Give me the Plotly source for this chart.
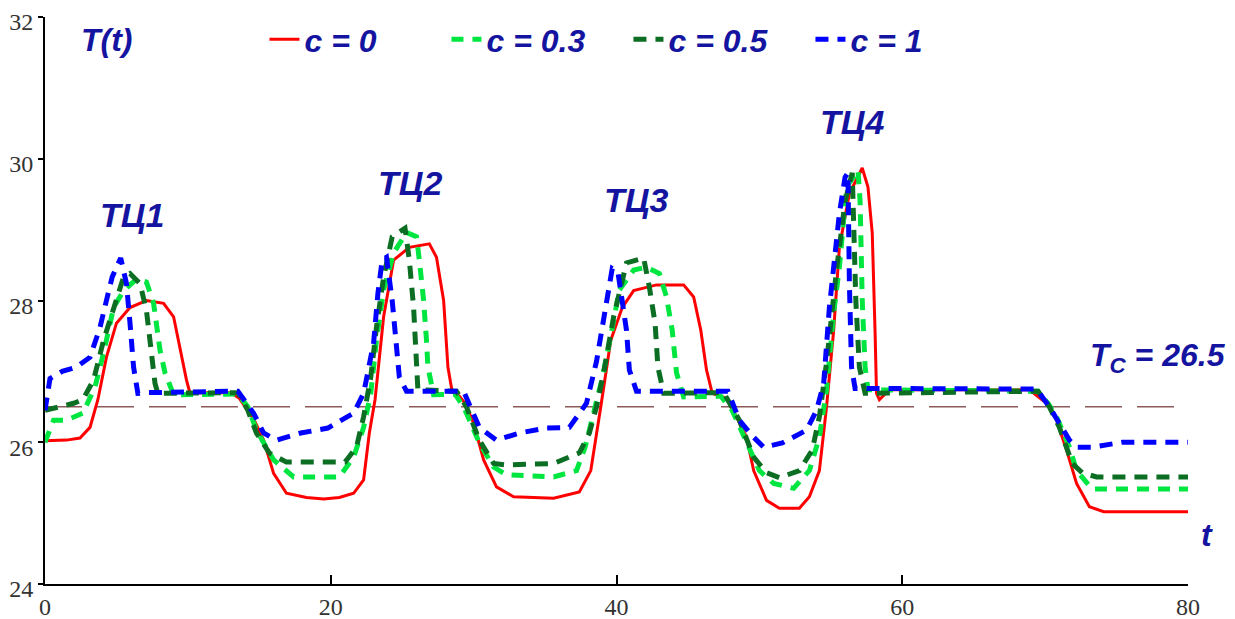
import plotly.graph_objects as go

# ---- data ----
t_c0 = [0, 1.5, 2.45, 3.15, 3.7, 4.3, 5.0, 5.95, 7.1, 8.3, 9.0, 9.45, 9.9, 10.15, 11, 13.0, 13.6, 14.6, 15.3, 16.0, 16.9,
        18.3, 19.5, 20.6, 21.6, 22.3, 22.7, 23.1, 23.7, 24.4, 25.5, 26.9, 27.4, 27.9, 28.2, 28.5, 29.0, 29.4, 30.0,
        30.7, 31.6, 32.8, 35.6, 37.4, 38.2, 38.9, 39.6, 40.4, 41.2, 42.8, 44.7, 45.4, 45.9, 46.3, 46.7, 47.7, 48.4,
        49.1, 49.6, 50.5, 51.4, 52.8, 53.5, 54.2, 54.7, 55.2, 55.6, 56.3, 57.2, 57.6, 57.9, 58.1, 58.2, 58.4, 59.1,
        68.9, 70.1, 70.8, 71.5, 72.2, 73.1, 74.1, 80]
T_c0 = [26.02, 26.03, 26.06, 26.21, 26.6, 27.2, 27.68, 27.9, 28.0, 27.96, 27.77, 27.3, 26.88, 26.69, 26.7, 26.7, 26.62,
        26.33, 26.03, 25.56, 25.28, 25.22, 25.2, 25.22, 25.28, 25.47, 26.13, 26.6, 27.77, 28.57, 28.75, 28.8, 28.61,
        28.0, 27.06, 26.71, 26.65, 26.55, 26.27, 25.75, 25.37, 25.23, 25.21, 25.3, 25.6, 26.5, 27.44, 27.9, 28.14,
        28.22, 28.22, 28.05, 27.58, 27.02, 26.69, 26.62, 26.36, 26.07, 25.6, 25.18, 25.07, 25.07, 25.23, 25.6, 26.5,
        27.58, 28.75, 29.51, 29.87, 29.6, 28.95, 27.54, 26.69, 26.6, 26.74, 26.74, 26.55, 26.31, 25.89, 25.42, 25.09,
        25.02, 25.02]

t_c03 = [0, 0.6, 1.5, 2.65, 3.5, 4.1, 4.8, 5.5, 6.4, 7.1, 7.6, 7.8, 8.05, 8.4, 9.0, 13.5, 14.2, 14.8, 16.0, 17.4, 20.6,
         21.6, 22.3, 22.8, 23.2, 23.7, 24.4, 25.3, 26.0, 26.2, 26.5, 26.7, 26.8, 27.2, 28.7, 29.3, 30.4, 31.4, 32.3,
         35.6, 37.2, 37.8, 38.4, 39.0, 39.6, 40.2, 41.2, 42.1, 43.0, 43.5, 43.9, 44.2, 44.7, 47.3, 48.1, 49.1, 50.0,
         51.0, 52.4, 53.5, 54.2, 54.7, 55.2, 55.6, 56.1, 56.9, 57.05, 57.2, 57.4, 57.6, 69.5, 70.2, 70.8, 71.7, 72.2,
         73.3, 80]
T_c03 = [26.0, 26.31, 26.31, 26.41, 26.78, 27.26, 27.9, 28.14, 28.3, 28.26, 27.96, 27.68, 27.3, 26.98, 26.67, 26.68,
         26.5, 26.17, 25.75, 25.51, 25.51, 25.79, 26.21, 26.69, 27.44, 28.15, 28.67, 28.96, 28.9, 28.57, 28.0, 27.44,
         27.06, 26.67, 26.68, 26.5, 25.99, 25.65, 25.54, 25.51, 25.6, 25.93, 26.4, 26.9, 27.5, 28.15, 28.43, 28.47,
         28.38, 28.05, 27.58, 26.98, 26.64, 26.65, 26.45, 25.99, 25.6, 25.42, 25.35, 25.6, 26.07, 26.74, 27.82, 28.47,
         29.6, 29.84, 29.4, 28.0, 27.06, 26.74, 26.72, 26.55, 26.36, 25.93, 25.6, 25.34, 25.34]

t_c05 = [0, 1.05, 2.0, 2.65, 3.4, 4.1, 4.8, 5.5, 5.95, 6.65, 7.1, 7.35, 7.7, 7.9, 13.5, 14.2, 14.8, 15.7, 16.9, 21.0,
         21.8, 22.3, 22.8, 23.2, 23.7, 24.3, 25.2, 25.5, 25.8, 26.0, 26.1, 28.8, 29.5, 30.4, 31.4, 32.3, 35.6, 37.4,
         38.1, 38.6, 39.1, 39.8, 40.7, 41.9, 42.3, 42.7, 42.9, 43.3, 47.5, 48.6, 49.6, 50.5, 51.4, 52.8, 53.7, 54.2,
         54.7, 55.4, 56.0, 56.5, 56.6, 56.75, 57.0, 57.4, 69.5, 70.3, 71.0, 71.9, 72.6, 73.6, 80]
T_c05 = [26.45, 26.5, 26.55, 26.6, 26.88, 27.44, 27.9, 28.33, 28.38, 28.24, 27.86, 27.4, 26.83, 26.69, 26.7, 26.45,
         26.13, 25.85, 25.72, 25.72, 25.93, 26.36, 26.92, 27.62, 28.33, 28.9, 29.02, 28.57, 27.9, 27.12, 26.74, 26.72,
         26.5, 26.03, 25.7, 25.68, 25.7, 25.85, 26.13, 26.5, 26.98, 27.77, 28.53, 28.6, 28.19, 27.68, 27.06, 26.69,
         26.7, 26.31, 25.79, 25.57, 25.5, 25.6, 25.89, 26.36, 27.12, 28.43, 29.4, 29.8, 28.95, 28.0, 27.06, 26.69,
         26.72, 26.5, 26.21, 25.7, 25.57, 25.51, 25.51]

t_c1 = [0, 0.35, 1.2, 2.2, 3.15, 3.85, 4.3, 4.7, 5.3, 5.7, 5.95, 6.2, 6.5, 7.0, 13.5, 14.6, 15.3, 16.2, 17.9, 19.8,
        21.6, 22.3, 23.0, 23.3, 23.6, 23.9, 24.3, 24.6, 24.8, 25.3, 29.3, 30.4, 31.6, 33.2, 35.1, 36.7, 37.9, 38.6,
        39.2, 39.7, 40.1, 40.7, 40.9, 41.4, 47.8, 48.6, 49.6, 50.3, 51.6, 53.3, 54.0, 54.5, 54.9, 55.3, 55.6, 56.0,
        56.2, 56.3, 56.45, 56.7, 69.4, 70.3, 71.0, 71.7, 72.2, 73.3, 75.4, 80]
T_c1 = [26.45, 26.9, 27.0, 27.06, 27.2, 27.62, 28.0, 28.33, 28.6, 28.24, 27.68, 27.06, 26.69, 26.7, 26.72, 26.41,
        26.13, 26.03, 26.13, 26.2, 26.41, 26.69, 27.4, 28.1, 28.57, 28.61, 28.0, 27.3, 26.92, 26.72, 26.72, 26.21,
        26.03, 26.13, 26.2, 26.21, 26.55, 27.14, 27.84, 28.45, 28.4, 27.58, 27.02, 26.72, 26.72, 26.31, 26.07, 25.93,
        25.99, 26.17, 26.45, 26.83, 27.9, 28.67, 29.23, 29.74, 29.8, 28.24, 27.06, 26.76, 26.75, 26.5, 26.27, 26.03,
        25.93, 25.93, 26.0, 26.0]

T_C = 26.5
x_range = [0, 80]
y_range = [24, 32]
x_ticks = [0, 20, 40, 60, 80]
y_ticks = [24, 26, 28, 30, 32]

labels = ["ТЦ1", "ТЦ2", "ТЦ3", "ТЦ4"]
label_x = [6.1, 25.6, 41.4, 56.5]
label_y = [29.2, 29.66, 29.42, 30.52]

series_names = ["c = 0", "c = 0.3", "c = 0.5", "c = 1"]

NAVY = "#1414a0"
BI = dict(family="Liberation Sans", color=NAVY, weight="bold", style="italic")

fig = go.Figure()

# reference level T_C
fig.add_trace(go.Scatter(x=x_range, y=[T_C, T_C], mode="lines", showlegend=False, hoverinfo="skip",
                         line=dict(color="#8c5a5a", width=1.5, dash="37px,15px")))

fig.add_trace(go.Scatter(x=t_c0, y=T_c0, mode="lines", name=series_names[0],
                         line=dict(color="#ff0000", width=3)))
fig.add_trace(go.Scatter(x=t_c03, y=T_c03, mode="lines", name=series_names[1],
                         line=dict(color="#00e640", width=5, dash="12px,9px")))
fig.add_trace(go.Scatter(x=t_c05, y=T_c05, mode="lines", name=series_names[2],
                         line=dict(color="#0b6e23", width=5, dash="13px,9px")))
fig.add_trace(go.Scatter(x=t_c1, y=T_c1, mode="lines", name=series_names[3],
                         line=dict(color="#0000ff", width=5, dash="13px,9px")))

annots = []
for txt, xx, yy in zip(labels, label_x, label_y):
    annots.append(dict(x=xx, y=yy, xref="x", yref="y", text=txt, showarrow=False,
                       font=dict(size=34, **BI)))
annots.append(dict(x=2.4, y=31.67, xref="x", yref="y", text="T(t)", showarrow=False, xanchor="left",
                   font=dict(size=32, **BI)))
annots.append(dict(x=73.0, y=27.19, xref="x", yref="y", text="T<sub>C</sub> = 26.5", showarrow=False,
                   xanchor="left", font=dict(size=32, **BI)))
annots.append(dict(x=1.0236, y=0.051, xref="paper", yref="paper", text="t", showarrow=False,
                   font=dict(size=32, **BI)))

fig.update_layout(
    width=1235, height=619,
    margin=dict(l=37, r=55, t=9, b=43, autoexpand=False),
    paper_bgcolor="white", plot_bgcolor="white",
    showlegend=True,
    legend=dict(orientation="h", x=0.192, y=1.009, xanchor="left", yanchor="top",
                bgcolor="rgba(0,0,0,0)", entrywidth=137, entrywidthmode="pixels",
                font=dict(size=32, **BI)),
    xaxis=dict(range=x_range, tickvals=x_ticks, ticks="inside", ticklen=9, tickwidth=1.5, tickcolor="black",
               showline=True, linecolor="black", linewidth=2, showgrid=False, zeroline=False, automargin=False,
               tickfont=dict(family="Liberation Serif", size=24, color="#333")),
    yaxis=dict(range=y_range, tickvals=y_ticks, ticks="outside", ticklen=5, tickwidth=1.5, tickcolor="black",
               showline=True, linecolor="black", linewidth=2, showgrid=False, zeroline=False, automargin=False,
               ticklabeloverflow="allow", ticklabelshift=5,
               tickfont=dict(family="Liberation Serif", size=24, color="#333")),
    annotations=annots,
)

fig.write_html("out.html")
